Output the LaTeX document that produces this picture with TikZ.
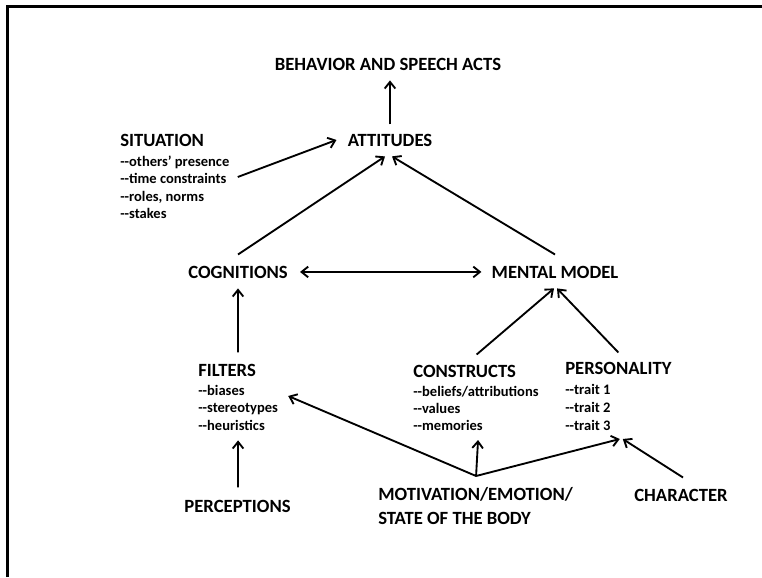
\documentclass[tikz,border=0pt]{standalone}
\usepackage{fontspec}
\setmainfont{Carlito}
\usetikzlibrary{arrows.meta}
\newcommand\dsh{-\kern0pt-}
\begin{document}
\begin{tikzpicture}[x=0.75pt,y=-0.75pt,
  hd/.style={font=\fontsize{14}{17}\selectfont\bfseries, inner sep=0pt},
  it/.style={font=\fontsize{10.9}{13}\selectfont\bfseries, inner sep=0pt, anchor=base west},
  arr/.style={line width=1.4pt, -{Straight Barb[length=5pt,width=8pt]}},
  darr/.style={line width=1.4pt, {Straight Barb[length=5pt,width=8pt]}-{Straight Barb[length=5pt,width=8pt]}},
  frame/.style={line width=1.6pt}]
\useasboundingbox (0,0) rectangle (762,577);
\draw[frame] (7.5,577) -- (7.5,6.5) -- (762,6.5);

% headings
\node[hd,anchor=base] (beh) at (388,71) {BEHAVIOR AND SPEECH ACTS};
\node[hd,anchor=base] (att) at (390,147) {ATTITUDES};
\node[hd,anchor=base west] (sit) at (120,147) {SITUATION};
\node[it] (sit1) at (120,166.5) {\dsh others’ presence};
\node[it] (sit2) at (120,184) {\dsh time constraints};
\node[it] (sit3) at (120,201.5) {\dsh roles, norms};
\node[it] (sit4) at (120,218.5) {\dsh stakes};

\node[hd,anchor=base] (cog) at (238,278) {COGNITIONS};
\node[hd,anchor=base] (mm) at (555,278) {MENTAL MODEL};

\node[hd,anchor=base west] (fil) at (198,376) {FILTERS};
\node[it] (fil1) at (198,395.5) {\dsh biases};
\node[it] (fil2) at (198,412.5) {\dsh stereotypes};
\node[it] (fil3) at (198,430.5) {\dsh heuristics};

\node[hd,anchor=base west] (con) at (413,377) {CONSTRUCTS};
\node[it] (con1) at (413,396.5) {\dsh beliefs/attributions};
\node[it] (con2) at (413,413.5) {\dsh values};
\node[it] (con3) at (413,430.5) {\dsh memories};

\node[hd,anchor=base west] (per) at (565,374) {PERSONALITY};
\node[it] (per1) at (565,394.5) {\dsh trait 1};
\node[it] (per2) at (565,412.5) {\dsh trait 2};
\node[it] (per3) at (565,430.5) {\dsh trait 3};

\node[hd,anchor=base] (perc) at (237.5,512) {PERCEPTIONS};
\node[hd,anchor=base west] (mot1) at (378,500) {MOTIVATION/EMOTION/};
\node[hd,anchor=base west] (mot2) at (378,524) {STATE OF THE BODY};
\node[hd,anchor=base] (char) at (681,501) {CHARACTER};

\coordinate (apex) at ([shift={(0.5,-24)}]mot1.base);

% connectors
\draw[arr] ([shift={(0,-10)}]att.north) -- ([shift={(2,9)}]beh.south);
\draw[arr] ([shift={(11,-7)}]sit2.base east) -- ([shift={(-11,-1)}]att.west);
\draw[arr] ([shift={(0,-11)}]cog.north) -- ([shift={(-5,9)}]att.south);
\draw[arr] ([shift={(0,-11)}]mm.north) -- ([shift={(2,9)}]att.south);
\draw[darr] ([shift={(12,0)}]cog.east) -- ([shift={(-10,0)}]mm.west);
\draw[arr] ([shift={(11,-11)}]fil.north) -- ([shift={(0,10)}]cog.south);
\draw[arr] ([shift={(12,-10)}]con.north) -- ([shift={(-1,10)}]mm.south);
\draw[arr] ([shift={(0,-9)}]per.north) -- ([shift={(2,10)}]mm.south);
\draw[arr] (apex) -- ([shift={(10,-16.5)}]fil2.base east);
\draw[arr] (apex) -- ([shift={(-5,9.5)}]con3.base east);
\draw[arr] (apex) -- ([shift={(9,8.5)}]per3.base east);
\draw[arr] ([shift={(2,-11)}]char.north) -- ([shift={(12,8.5)}]per3.base east);
\draw[arr] ([shift={(0.5,-12)}]perc.north) -- ([shift={(6.5,9.5)}]fil3.south);
\end{tikzpicture}
\end{document}
